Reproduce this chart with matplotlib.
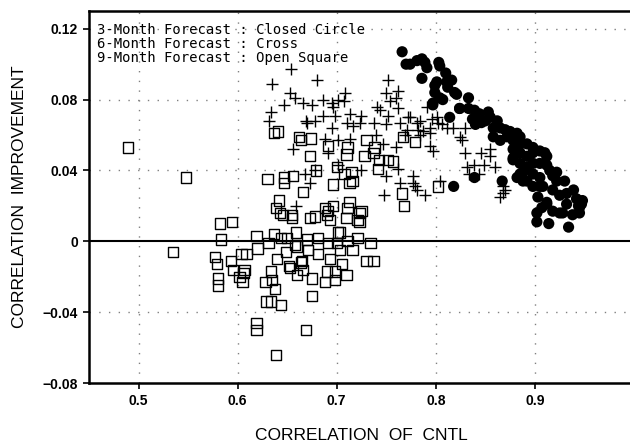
import numpy as np
import matplotlib.pyplot as plt

# 3-month forecast (closed circles)
m3_cntl = [0.766, 0.770, 0.774, 0.781, 0.786, 0.789, 0.791, 0.786, 0.803, 0.804,
           0.810, 0.801, 0.799, 0.816, 0.812, 0.799, 0.804, 0.807, 0.797, 0.821,
           0.833, 0.814, 0.824, 0.833, 0.839, 0.844, 0.853, 0.855, 0.862, 0.837,
           0.846, 0.858, 0.865, 0.870, 0.875, 0.882, 0.885, 0.858, 0.865, 0.872,
           0.878, 0.885, 0.892, 0.898, 0.905, 0.910, 0.912, 0.878, 0.885, 0.892,
           0.898, 0.878, 0.885, 0.892, 0.898, 0.905, 0.912, 0.915, 0.888, 0.898,
           0.905, 0.918, 0.882, 0.892, 0.898, 0.908, 0.922, 0.930, 0.903, 0.912,
           0.925, 0.932, 0.939, 0.942, 0.948, 0.945, 0.902, 0.918, 0.928, 0.938,
           0.867, 0.839, 0.818, 0.902, 0.914, 0.934, 0.925, 0.945, 0.947, 0.905,
           0.912, 0.907, 0.918, 0.932, 0.944, 0.922, 0.819, 0.824, 0.811, 0.797,
           0.878, 0.885, 0.888, 0.840, 0.850]
m3_impr = [0.107, 0.100, 0.100, 0.102, 0.103, 0.101, 0.098, 0.092, 0.101, 0.099,
           0.095, 0.090, 0.088, 0.091, 0.087, 0.084, 0.081, 0.080, 0.077, 0.083,
           0.081, 0.070, 0.075, 0.075, 0.074, 0.072, 0.073, 0.070, 0.068, 0.069,
           0.067, 0.064, 0.064, 0.063, 0.062, 0.061, 0.059, 0.059, 0.057, 0.059,
           0.057, 0.055, 0.055, 0.053, 0.051, 0.050, 0.048, 0.052, 0.050, 0.048,
           0.050, 0.046, 0.044, 0.042, 0.044, 0.044, 0.043, 0.040, 0.039, 0.038,
           0.036, 0.037, 0.036, 0.034, 0.031, 0.031, 0.034, 0.034, 0.025, 0.022,
           0.026, 0.027, 0.029, 0.024, 0.023, 0.019, 0.016, 0.017, 0.016, 0.015,
           0.034, 0.036, 0.031, 0.011, 0.010, 0.008, 0.016, 0.016, 0.021, 0.031,
           0.021, 0.019, 0.029, 0.021, 0.020, 0.039, 0.084, 0.075, 0.090, 0.078,
           0.047, 0.038, 0.034, 0.066, 0.068]

# 6-month forecast (crosses)
m6_cntl = [0.654, 0.635, 0.680, 0.653, 0.658, 0.647, 0.666, 0.675, 0.634, 0.669,
           0.678, 0.656, 0.668, 0.678, 0.673, 0.659, 0.752, 0.708, 0.750, 0.762,
           0.760, 0.686, 0.701, 0.696, 0.741, 0.762, 0.791, 0.744, 0.686, 0.698,
           0.713, 0.725, 0.752, 0.774, 0.801, 0.670, 0.695, 0.716, 0.723, 0.738,
           0.750, 0.764, 0.781, 0.782, 0.787, 0.794, 0.806, 0.811, 0.817, 0.829,
           0.740, 0.771, 0.784, 0.688, 0.701, 0.713, 0.747, 0.760, 0.794, 0.797,
           0.824, 0.826, 0.691, 0.829, 0.846, 0.855, 0.855, 0.701, 0.725, 0.750,
           0.762, 0.831, 0.839, 0.849, 0.860, 0.833, 0.844, 0.764, 0.777, 0.779,
           0.781, 0.789, 0.748, 0.804, 0.868, 0.868, 0.865, 0.754, 0.772, 0.784,
           0.796, 0.802, 0.632, 0.695, 0.707, 0.710, 0.777, 0.769, 0.794, 0.870]
m6_impr = [0.097, 0.089, 0.091, 0.084, 0.081, 0.077, 0.078, 0.077, 0.073, 0.068,
           0.068, 0.052, 0.038, 0.040, 0.033, 0.020, 0.091, 0.084, 0.084, 0.085,
           0.081, 0.080, 0.080, 0.076, 0.076, 0.075, 0.076, 0.074, 0.071, 0.071,
           0.072, 0.071, 0.071, 0.070, 0.070, 0.067, 0.064, 0.065, 0.067, 0.067,
           0.066, 0.067, 0.067, 0.063, 0.062, 0.064, 0.066, 0.064, 0.064, 0.064,
           0.060, 0.063, 0.060, 0.058, 0.057, 0.058, 0.055, 0.053, 0.054, 0.051,
           0.059, 0.057, 0.050, 0.050, 0.050, 0.052, 0.048, 0.043, 0.040, 0.037,
           0.041, 0.042, 0.043, 0.043, 0.042, 0.038, 0.038, 0.033, 0.037, 0.031,
           0.029, 0.026, 0.026, 0.034, 0.031, 0.027, 0.025, 0.079, 0.070, 0.068,
           0.069, 0.067, 0.068, 0.078, 0.079, 0.067, 0.033, 0.060, 0.061, 0.029]

# 9-month forecast (open squares)
m9_cntl = [0.489, 0.548, 0.535, 0.582, 0.594, 0.583, 0.577, 0.579, 0.580, 0.580,
           0.593, 0.595, 0.602, 0.605, 0.604, 0.609, 0.607, 0.606, 0.619, 0.620,
           0.619, 0.619, 0.628, 0.629, 0.634, 0.644, 0.634, 0.635, 0.638, 0.639,
           0.631, 0.637, 0.640, 0.643, 0.644, 0.649, 0.652, 0.650, 0.655, 0.659,
           0.658, 0.660, 0.665, 0.666, 0.670, 0.671, 0.669, 0.673, 0.675, 0.675,
           0.678, 0.768, 0.690, 0.696, 0.711, 0.723, 0.723, 0.710, 0.693, 0.703,
           0.681, 0.691, 0.700, 0.711, 0.721, 0.734, 0.716, 0.703, 0.681, 0.730,
           0.737, 0.705, 0.693, 0.688, 0.690, 0.698, 0.698, 0.710, 0.637, 0.641,
           0.662, 0.664, 0.674, 0.673, 0.630, 0.647, 0.647, 0.656, 0.666, 0.642,
           0.639, 0.646, 0.655, 0.660, 0.653, 0.664, 0.691, 0.711, 0.710, 0.728,
           0.730, 0.737, 0.743, 0.752, 0.757, 0.767, 0.779, 0.700, 0.708, 0.716,
           0.713, 0.715, 0.742, 0.696, 0.766, 0.802, 0.688, 0.691, 0.713, 0.725,
           0.721, 0.701, 0.679, 0.738]
m9_impr = [0.053, 0.036, -0.006, 0.010, 0.011, 0.001, -0.009, -0.013, -0.021, -0.025,
           -0.011, -0.016, -0.020, -0.023, -0.007, -0.007, -0.016, -0.018, 0.003, -0.004,
           -0.046, -0.050, -0.023, -0.034, -0.034, -0.036, -0.017, -0.022, -0.027, -0.064,
           -0.001, 0.004, -0.010, 0.016, 0.002, -0.006, -0.014, 0.002, 0.015, 0.005,
           -0.002, -0.019, -0.011, -0.016, 0.001, -0.005, -0.050, 0.013, -0.031, -0.021,
           0.014, 0.020, 0.015, 0.020, 0.019, 0.016, 0.011, 0.013, 0.012, 0.005,
           0.002, -0.001, -0.001, 0.000, 0.002, -0.001, -0.005, -0.005, -0.007, -0.011,
           -0.011, -0.013, -0.010, -0.023, -0.017, -0.017, -0.022, -0.019, 0.061, 0.062,
           0.059, 0.057, 0.058, 0.048, 0.035, 0.036, 0.033, 0.037, 0.028, 0.023,
           0.019, 0.015, 0.013, -0.003, -0.015, -0.012, 0.054, 0.053, 0.049, 0.048,
           0.057, 0.050, 0.046, 0.046, 0.045, 0.059, 0.056, 0.042, 0.038, 0.034,
           0.033, 0.039, 0.041, 0.032, 0.027, 0.031, 0.019, 0.017, 0.022, 0.017,
           0.012, 0.005, 0.040, 0.053]

legend_lines = ["3-Month Forecast : Closed Circle",
                "6-Month Forecast : Cross",
                "9-Month Forecast : Open Square"]
xticks = [0.5, 0.6, 0.7, 0.8, 0.9]
yticks = [-0.08, -0.04, 0, 0.04, 0.08, 0.12]

fig = plt.figure(figsize=(6.3, 4.43), dpi=100)
ax = fig.add_axes([0.1413, 0.1354, 0.865, 0.8397])

ax.scatter(m9_cntl, m9_impr, marker='s', s=55, facecolors='none',
           edgecolors='black', linewidths=1.0, zorder=3)
ax.scatter(m6_cntl, m6_impr, marker='+', s=70, color='black',
           linewidths=1.0, zorder=3)
ax.scatter(m3_cntl, m3_impr, marker='o', s=65, color='black',
           edgecolors='none', zorder=4)

ax.axhline(0, color='black', lw=1.5, zorder=2)

ax.set_xlim(0.45, 1.0)
ax.set_ylim(-0.08, 0.13)
ax.set_xticks(xticks)
ax.set_yticks(yticks)
ax.set_xticklabels([str(t) for t in xticks])
ax.set_yticklabels(['\u22120.08', '\u22120.04', '0', '0.04', '0.08', '0.12'])

for t in xticks:
    ax.axvline(t, color='gray', ls=(0, (1, 6)), lw=1.0, zorder=1)
for t in [-0.04, 0.04, 0.08, 0.12]:
    ax.axhline(t, color='gray', ls=(0, (1, 6)), lw=1.0, zorder=1)

for lab in ax.get_xticklabels() + ax.get_yticklabels():
    lab.set_fontfamily('Liberation Sans')
    lab.set_fontweight('bold')
    lab.set_fontsize(10)
ax.tick_params(direction='out', length=4, width=1.2, pad=4)

for side in ['left', 'bottom', 'top']:
    ax.spines[side].set_linewidth(1.8)
ax.spines['right'].set_visible(False)

ax.set_xlabel('CORRELATION  OF  CNTL', fontfamily='Liberation Sans',
              fontsize=12.5, labelpad=14)
ax.set_ylabel('CORRELATION  IMPROVEMENT', fontfamily='Liberation Sans',
              fontsize=12.5, labelpad=11)

for i, line in enumerate(legend_lines):
    ax.text(0.015, 0.949 - i * 0.0376, line, transform=ax.transAxes,
            fontfamily='DejaVu Sans Mono', fontsize=10, va='center', ha='left',
            zorder=5)

fig.savefig('out.png', dpi=100)
